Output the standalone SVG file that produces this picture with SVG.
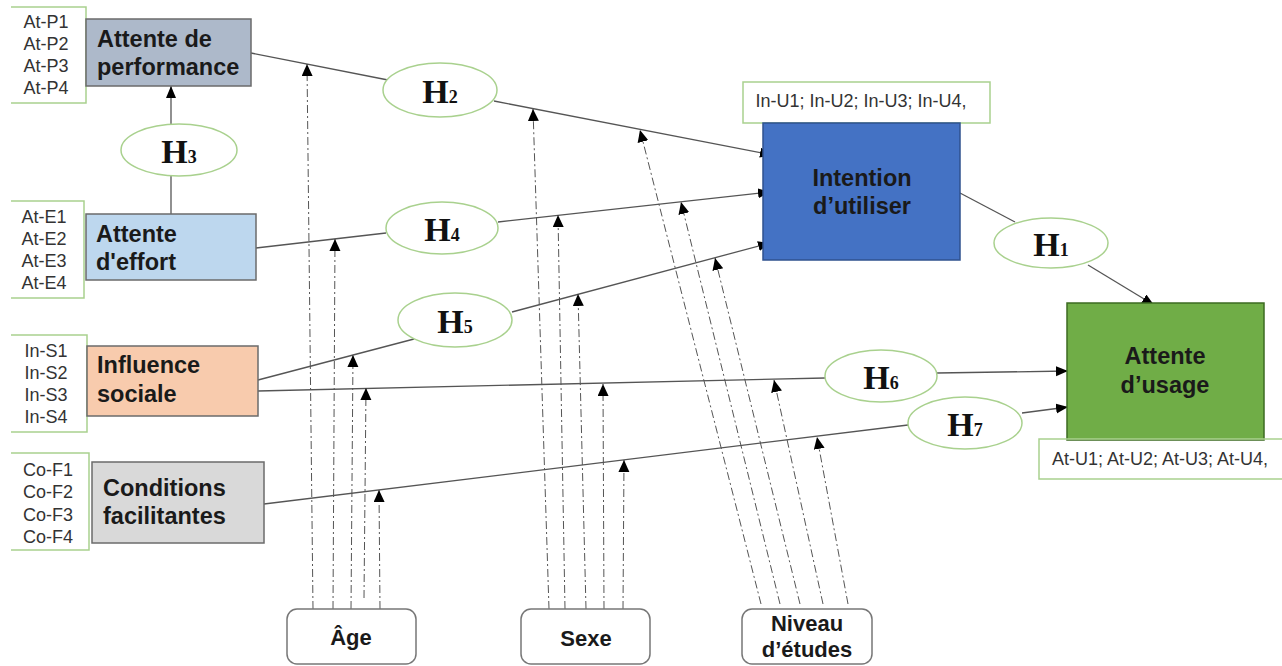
<svg xmlns="http://www.w3.org/2000/svg" width="1282" height="666" viewBox="0 0 1282 666">
<defs>
<style>
.ind{fill:none;stroke:#a9d18e;stroke-width:1.5}
.indt{font-family:"Liberation Sans",Arial,sans-serif;font-size:18px;fill:#333;text-anchor:middle}
.box{stroke:#6b6b6b;stroke-width:1.5}
.bt{font-family:"Liberation Sans",Arial,sans-serif;font-size:23.5px;font-weight:bold;fill:#1a1a1a}
.hyp{fill:#fff;stroke:#a9d18e;stroke-width:1.5}
.ht{font-family:"Liberation Serif","Times New Roman",serif;font-size:34px;font-weight:bold;fill:#111;text-anchor:middle}
.sub{font-size:18px}
.mod{fill:#fff;stroke:#777;stroke-width:1.5}
.mt{font-family:"Liberation Sans",Arial,sans-serif;font-size:22px;font-weight:bold;fill:#1a1a1a;text-anchor:middle}
.c{fill:none;stroke:#555;stroke-width:1.3}
.d{fill:none;stroke:#555;stroke-width:1;stroke-dasharray:8 3 2 3}
</style>
<marker id="ah" markerUnits="userSpaceOnUse" markerWidth="14" markerHeight="12" refX="12" refY="5" orient="auto">
<path d="M0,0 L12,5 L0,10 Z" fill="#000"/>
</marker>
<marker id="am" markerUnits="userSpaceOnUse" markerWidth="14" markerHeight="14" refX="12" refY="5.5" orient="auto">
<path d="M0,0 L12,5.5 L0,11 Z" fill="#000"/>
</marker>
</defs>
<rect width="1282" height="666" fill="#fff"/>

<g id="connectors">
<line class="c" x1="251" y1="53" x2="388" y2="80"/>
<line class="c" x1="494" y1="101" x2="772" y2="155" marker-end="url(#ah)"/>
<line class="c" x1="256" y1="248" x2="386" y2="233"/>
<line class="c" x1="498" y1="222" x2="770" y2="192" marker-end="url(#ah)"/>
<line class="c" x1="258" y1="380" x2="414" y2="339"/>
<line class="c" x1="512" y1="312" x2="770" y2="243" marker-end="url(#ah)"/>
<line class="c" x1="258" y1="391" x2="825" y2="378"/>
<line class="c" x1="937" y1="373" x2="1068" y2="371" marker-end="url(#ah)"/>
<line class="c" x1="264" y1="504" x2="908" y2="425"/>
<line class="c" x1="1022" y1="413" x2="1068" y2="407" marker-end="url(#ah)"/>
<line class="c" x1="960" y1="193" x2="1015" y2="222"/>
<line class="c" x1="1088" y1="265" x2="1154" y2="305" marker-end="url(#ah)"/>
<line class="c" x1="171" y1="214" x2="171" y2="175"/>
<line class="c" x1="171" y1="124" x2="171" y2="86" marker-end="url(#ah)"/>
<!-- Age -->
<line class="d" x1="313" y1="609" x2="307" y2="64" marker-end="url(#am)"/>
<line class="d" x1="333" y1="609" x2="335" y2="239" marker-end="url(#am)"/>
<line class="d" x1="351" y1="609" x2="353" y2="355" marker-end="url(#am)"/>
<line class="d" x1="364" y1="598" x2="366" y2="388" marker-end="url(#am)"/>
<line class="d" x1="380" y1="609" x2="379" y2="490" marker-end="url(#am)"/>
<!-- Sexe -->
<line class="d" x1="549" y1="609" x2="533" y2="109" marker-end="url(#am)"/>
<line class="d" x1="565" y1="609" x2="558" y2="215" marker-end="url(#am)"/>
<line class="d" x1="586" y1="609" x2="578" y2="294" marker-end="url(#am)"/>
<line class="d" x1="604" y1="609" x2="603" y2="384" marker-end="url(#am)"/>
<line class="d" x1="623" y1="609" x2="624" y2="460" marker-end="url(#am)"/>
<!-- Niveau -->
<line class="d" x1="761" y1="604" x2="640" y2="130" marker-end="url(#am)"/>
<line class="d" x1="780" y1="604" x2="681" y2="202" marker-end="url(#am)"/>
<line class="d" x1="800" y1="604" x2="715" y2="258" marker-end="url(#am)"/>
<line class="d" x1="823" y1="604" x2="774" y2="380" marker-end="url(#am)"/>
<line class="d" x1="848" y1="604" x2="817" y2="437" marker-end="url(#am)"/>
</g>

<g id="perf">
<path class="ind" d="M11,7 H86 V103 H11"/>
<text class="indt" x="46" y="28">At-P1</text>
<text class="indt" x="46" y="50">At-P2</text>
<text class="indt" x="46" y="72">At-P3</text>
<text class="indt" x="46" y="94">At-P4</text>
<rect class="box" x="86" y="19" width="165" height="67" fill="#adb9ca"/>
<text class="bt" x="97" y="47">Attente de</text>
<text class="bt" x="97" y="75">performance</text>
</g>

<g id="effort">
<path class="ind" d="M11,201 H84 V298 H11"/>
<text class="indt" x="44" y="223">At-E1</text>
<text class="indt" x="44" y="245">At-E2</text>
<text class="indt" x="44" y="267">At-E3</text>
<text class="indt" x="44" y="289">At-E4</text>
<rect class="box" x="86" y="214" width="170" height="66" fill="#bdd7ee"/>
<text class="bt" x="96" y="242">Attente</text>
<text class="bt" x="96" y="270">d'effort</text>
</g>

<g id="influence">
<path class="ind" d="M11,335 H87 V432 H11"/>
<text class="indt" x="46" y="357">In-S1</text>
<text class="indt" x="46" y="379">In-S2</text>
<text class="indt" x="46" y="401">In-S3</text>
<text class="indt" x="46" y="423">In-S4</text>
<rect class="box" x="87" y="346" width="171" height="70" fill="#f8cbad"/>
<text class="bt" x="97" y="373">Influence</text>
<text class="bt" x="97" y="402">sociale</text>
</g>

<g id="conditions">
<path class="ind" d="M11,453 H89 V550 H11"/>
<text class="indt" x="48" y="476">Co-F1</text>
<text class="indt" x="48" y="498">Co-F2</text>
<text class="indt" x="48" y="521">Co-F3</text>
<text class="indt" x="48" y="543">Co-F4</text>
<rect class="box" x="92" y="462" width="172" height="81" fill="#d9d9d9"/>
<text class="bt" x="103" y="496">Conditions</text>
<text class="bt" x="103" y="524">facilitantes</text>
</g>

<g id="intention">
<rect class="ind" x="743" y="82" width="247" height="41" fill="#fff"/>
<text class="indt" x="861" y="107">In-U1; In-U2; In-U3; In-U4,</text>
<rect x="763" y="123" width="197" height="137" fill="#4472c4" stroke="#2f528f" stroke-width="1.5"/>
<text class="bt" x="862" y="186" text-anchor="middle">Intention</text>
<text class="bt" x="862" y="214" text-anchor="middle">d’utiliser</text>
</g>

<g id="usage">
<rect x="1067" y="303" width="197" height="137" fill="#70ad47" stroke="#3d6b22" stroke-width="1.5"/>
<text class="bt" x="1165" y="364" text-anchor="middle">Attente</text>
<text class="bt" x="1165" y="393" text-anchor="middle">d’usage</text>
<path class="ind" d="M1282,439 H1039 V479 H1282" fill="#fff"/>
<text class="indt" x="1160" y="465">At-U1; At-U2; At-U3; At-U4,</text>
</g>

<g id="H1"><ellipse class="hyp" cx="1051" cy="243" rx="57" ry="25"/><text class="ht" x="1051" y="256">H<tspan class="sub">1</tspan></text></g>
<g id="H2"><ellipse class="hyp" cx="440" cy="90" rx="57" ry="27"/><text class="ht" x="440" y="103">H<tspan class="sub">2</tspan></text></g>
<g id="H3"><ellipse class="hyp" cx="179" cy="150" rx="58" ry="26"/><text class="ht" x="179" y="163">H<tspan class="sub">3</tspan></text></g>
<g id="H4"><ellipse class="hyp" cx="442" cy="228" rx="56" ry="26"/><text class="ht" x="442" y="241">H<tspan class="sub">4</tspan></text></g>
<g id="H5"><ellipse class="hyp" cx="455" cy="320" rx="57" ry="27"/><text class="ht" x="455" y="333">H<tspan class="sub">5</tspan></text></g>
<g id="H6"><ellipse class="hyp" cx="881" cy="376" rx="56" ry="26"/><text class="ht" x="881" y="389">H<tspan class="sub">6</tspan></text></g>
<g id="H7"><ellipse class="hyp" cx="965" cy="423" rx="57" ry="26"/><text class="ht" x="965" y="436">H<tspan class="sub">7</tspan></text></g>

<g id="age"><rect class="mod" x="287" y="609" width="129" height="55" rx="10"/><text class="mt" x="351" y="645">Âge</text></g>
<g id="sexe"><rect class="mod" x="521" y="609" width="129" height="55" rx="10"/><text class="mt" x="586" y="646">Sexe</text></g>
<g id="niveau"><rect class="mod" x="742" y="609" width="130" height="55" rx="10"/><text class="mt" x="807" y="631">Niveau</text><text class="mt" x="807" y="657">d’études</text></g>
</svg>
